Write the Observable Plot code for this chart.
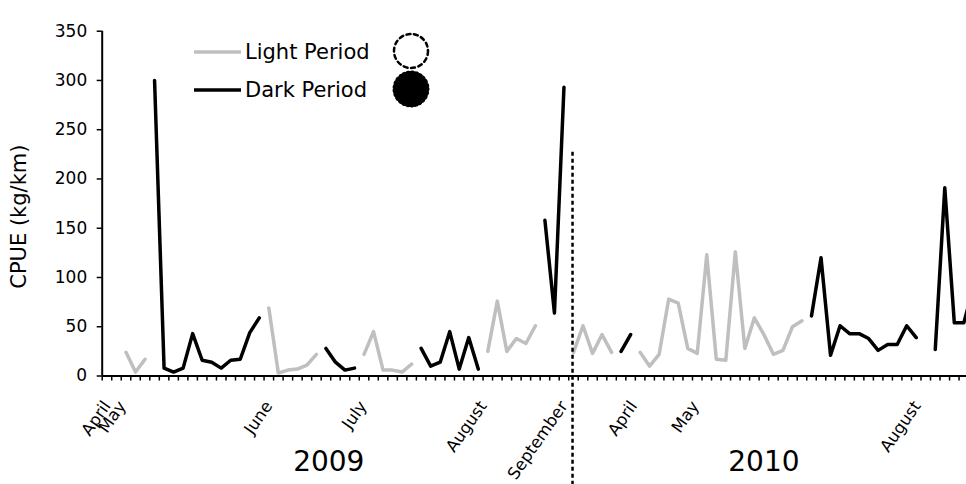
<!DOCTYPE html>
<html><head><meta charset="utf-8">
<script src="https://cdn.jsdelivr.net/npm/d3@7"></script>
<script src="https://cdn.jsdelivr.net/npm/@observablehq/plot@0.6"></script>
<style>
body{margin:0;background:#fff;font-family:"DejaVu Sans",sans-serif;}
#wrap{position:relative;width:966px;height:484px;overflow:hidden;}
#legend{position:absolute;left:0;top:0;pointer-events:none;}
</style></head><body><div id="wrap"></div>
<script>
// Sampling occasions (category index along x)
const nCategories = 92;
// CPUE (kg/km) during light period, null where not sampled
const lightCPUE = [
  null,null,24,4,17,null,null,null,null,null,
  null,null,null,null,null,null,null,69,3,6,
  7,11,22,null,null,null,null,22,45,6,
  6,4,12,null,null,null,null,null,null,null,
  25,76,25,38,33,51,null,null,null,24,
  51,23,42,24,null,null,24,10,22,78,
  74,28,23,123,17,16,126,28,59,42,
  22,26,50,56,null,null,null,null,null,null,
  null,null,null,null,null,null,null,null,null,null,
  null,null
];
// CPUE (kg/km) during dark period
const darkCPUE = [
  null,null,null,null,null,300,8,4,8,43,
  16,14,8,16,17,44,59,null,null,null,
  null,null,null,28,14,6,8,null,null,null,
  null,null,null,28,10,14,45,7,39,7,
  null,null,null,null,null,null,158,64,293,null,
  null,null,null,null,25,42,null,null,null,null,
  null,null,null,null,null,null,null,null,null,null,
  null,null,null,null,61,120,21,51,43,43,
  38,26,32,32,51,39,null,27,191,54,
  54,90
];
const monthLabels = ["April","May","June","July","August","September","April","May","August"];
const monthPositions = [0,1.6,17,26.9,39.5,48,55.3,61.8,85.1];
const yearLabels = ["2009","2010"];
const yearPositions = [23.3,69];
const yTicks = [0,50,100,150,200,250,300,350];
const dividerIndex = 48.9;
const seriesNames = ["Light Period","Dark Period"];
const seriesColors = ["#bfbfbf","#000000"];

const idx = d3.range(nCategories);
const boundaries = d3.range(-0.5, 90.3, 1);
const FONT = "DejaVu Sans, sans-serif";

const chart = Plot.plot({
  width: 966, height: 484,
  marginLeft: 101.7, marginRight: 0, marginTop: 30.7, marginBottom: 108.5,
  style: {fontFamily: FONT, fontSize: "17px", color: "#000", background: "#fff", overflow: "visible"},
  x: {type: "linear", domain: [-0.5, 90.28], axis: null},
  y: {domain: [0, 350], axis: null},
  marks: [
    Plot.axisY({ticks: yTicks, tickSize: 5, tickPadding: 10, label: null, fontSize: 17, strokeWidth: 1.5}),
    Plot.ruleX([-0.5], {y1: 0, y2: 350, stroke: "#000", strokeWidth: 2}),
    Plot.axisX({ticks: boundaries, tickSize: 5, tickFormat: () => "", label: null, strokeWidth: 1.5}),
    Plot.ruleY([0], {stroke: "#000", strokeWidth: 2}),
    Plot.axisX({ticks: monthPositions, tickFormat: d => monthLabels[monthPositions.indexOf(d)], tickSize: 0, tickRotate: -55, tickPadding: 27, label: null, fontSize: 16.5}),
    Plot.text(yearLabels, {x: (d, i) => yearPositions[i], y: 0, dy: 86, fontSize: 28, text: d => d}),
    Plot.text(["CPUE (kg/km)"], {frameAnchor: "left", dx: -83, dy: 13, rotate: -90, textAnchor: "middle", fontSize: 21}),
    Plot.line(idx, {x: i => i, y: i => lightCPUE[i], stroke: seriesColors[0], strokeWidth: 3.5, clip: true}),
    Plot.line(idx, {x: i => i, y: i => darkCPUE[i], stroke: seriesColors[1], strokeWidth: 3.5, clip: true}),
    Plot.ruleX([dividerIndex], {y1: 227, y2: -112, stroke: "#000", strokeWidth: 2.5, strokeDasharray: "4,3"})
  ]
});
const wrap = document.getElementById("wrap");
wrap.appendChild(chart);

// Legend overlay (inside plot area, top-left)
const leg = d3.create("svg").attr("id", "legend").attr("width", 966).attr("height", 484)
  .style("font-family", FONT);
const rows = leg.selectAll("g").data(seriesNames).join("g")
  .attr("transform", (d, i) => `translate(0,${52 + i * 38})`);
rows.append("line").attr("x1", 194).attr("x2", 241).attr("y1", 0).attr("y2", 0)
  .attr("stroke", (d, i) => seriesColors[i]).attr("stroke-width", 3.5);
rows.append("text").attr("x", 245).attr("y", 7).attr("font-size", 21).text(d => d);
rows.append("circle").attr("cx", 411).attr("cy", -1).attr("r", (d, i) => i ? 16 : 17)
  .attr("fill", (d, i) => i ? "#000" : "none")
  .attr("stroke", "#000")
  .attr("stroke-width", (d, i) => i ? 5 : 2.5)
  .attr("stroke-linecap", "round")
  .attr("stroke-dasharray", (d, i) => i ? "0.5,3.5" : "4,3.5");
wrap.appendChild(leg.node());
</script></body></html>
